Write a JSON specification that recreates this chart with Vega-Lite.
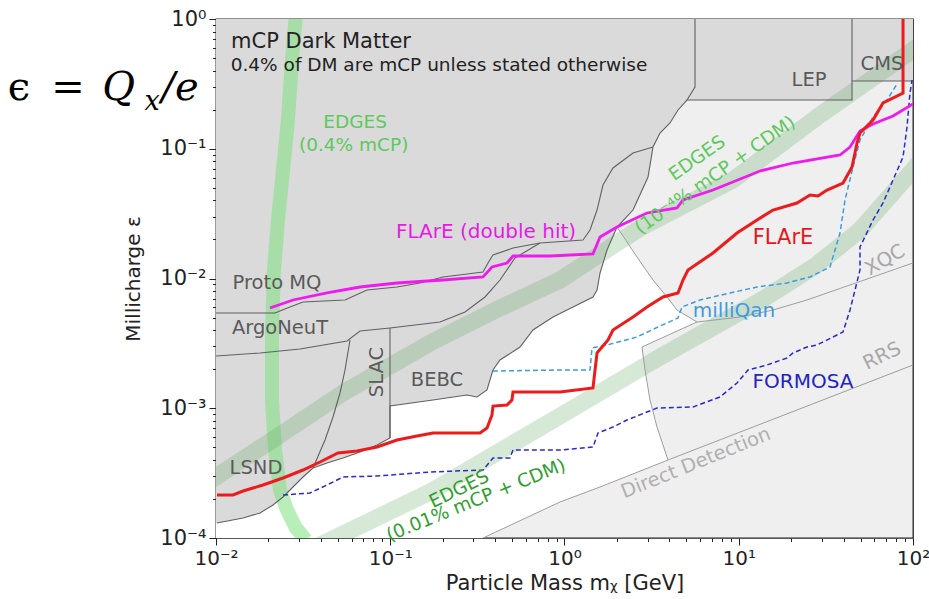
{
"$schema": "https://vega.github.io/schema/vega-lite/v6.json",
"width": 697, "height": 519,
"autosize": "none",
"padding": {"left": 216, "top": 19, "right": 16, "bottom": 61},
"background": "white",
"config": {
 "view": {"fill": "#efefef", "stroke": "#222", "strokeWidth": 1.3},
 "font": "DejaVu Sans",
 "text": {"font": "DejaVu Sans"}
},
"datasets": {
 "white": [
  {"i":0,"m":0.01,"e":0.0001},{"i":1,"m":0.3406,"e":0.0001},{"i":2,"m":0.9423,"e":0.0001894},{"i":3,"m":1.599,"e":0.0002472},
  {"i":4,"m":3.927,"e":0.0003992},{"i":5,"m":3.395,"e":0.0007168},{"i":6,"m":3.095,"e":0.001158},{"i":7,"m":2.897,"e":0.001971},
  {"i":8,"m":2.785,"e":0.002965},{"i":9,"m":5.759,"e":0.00462},{"i":10,"m":4.422,"e":0.005717},{"i":11,"m":3.875,"e":0.007203},
  {"i":12,"m":3.22,"e":0.009737},{"i":13,"m":2.607,"e":0.01464},{"i":14,"m":2.001,"e":0.02493},{"i":15,"m":1.599,"e":0.09781},
  {"i":16,"m":0.01,"e":0.09781}
 ],
 "dark": [
  {"i":0,"m":0.01,"e":1},{"i":1,"m":100,"e":1},{"i":2,"m":100,"e":0.3328},{"i":3,"m":44.67,"e":0.3328},
  {"i":4,"m":44.67,"e":0.2375},{"i":5,"m":5.047,"e":0.2375},{"i":6,"m":4.481,"e":0.1989},{"i":7,"m":4.031,"e":0.1579},
  {"i":8,"m":3.533,"e":0.1322},{"i":9,"m":3.22,"e":0.1032},{"i":10,"m":3.015,"e":0.06057},{"i":11,"m":2.473,"e":0.03372},
  {"i":12,"m":2.001,"e":0.02493},{"i":13,"m":1.754,"e":0.01659},{"i":14,"m":1.599,"e":0.01102},{"i":15,"m":1.537,"e":0.008154},
  {"i":16,"m":1.457,"e":0.007203},{"i":17,"m":1.119,"e":0.00603},{"i":18,"m":0.859,"e":0.005048},{"i":19,"m":0.6596,"e":0.004008},
  {"i":20,"m":0.5555,"e":0.002965},{"i":21,"m":0.4264,"e":0.002354},{"i":22,"m":0.3887,"e":0.001971},{"i":23,"m":0.3591,"e":0.001382},
  {"i":24,"m":0.3147,"e":0.001221},{"i":25,"m":0.2757,"e":0.001265},{"i":26,"m":0.1759,"e":0.001158},{"i":27,"m":0.09967,"e":0.00104},
  {"i":28,"m":0.09967,"e":0.0005898},{"i":29,"m":0.08395,"e":0.0005209},{"i":30,"m":0.06705,"e":0.0004601},{"i":31,"m":0.05356,"e":0.0004135},
  {"i":32,"m":0.04335,"e":0.0003785},{"i":33,"m":0.03603,"e":0.0003462},{"i":34,"m":0.03157,"e":0.0002952},{"i":35,"m":0.02766,"e":0.0002472},
  {"i":36,"m":0.02424,"e":0.000207},{"i":37,"m":0.02124,"e":0.0001796},{"i":38,"m":0.01789,"e":0.0001559},{"i":39,"m":0.01429,"e":0.0001426},
  {"i":40,"m":0.01013,"e":0.0001305},{"i":41,"m":0.01,"e":0.0001305}
 ],
 "darklines": [
  {"seg":"protomq","i":0,"m":0.01,"e":0.005421},{"seg":"protomq","i":1,"m":0.02182,"e":0.005421},{"seg":"protomq","i":2,"m":0.02658,"e":0.00603},
  {"seg":"protomq","i":3,"m":0.03157,"e":0.00659},{"seg":"protomq","i":4,"m":0.055,"e":0.00683},{"seg":"protomq","i":5,"m":0.07356,"e":0.008154},
  {"seg":"protomq","i":6,"m":0.1093,"e":0.008599},{"seg":"protomq","i":7,"m":0.1481,"e":0.009234},{"seg":"protomq","i":8,"m":0.2008,"e":0.01027},
  {"seg":"protomq","i":9,"m":0.3406,"e":0.01122},{"seg":"protomq","i":10,"m":0.3639,"e":0.01317},{"seg":"protomq","i":11,"m":0.3887,"e":0.01518},
  {"seg":"protomq","i":12,"m":0.5063,"e":0.01718},{"seg":"protomq","i":13,"m":0.7234,"e":0.01877},{"seg":"protomq","i":14,"m":1.277,"e":0.0198},
  {"seg":"protomq","i":15,"m":1.401,"e":0.02364},{"seg":"protomq","i":16,"m":1.537,"e":0.03372},{"seg":"protomq","i":17,"m":1.663,"e":0.05254},
  {"seg":"protomq","i":18,"m":1.898,"e":0.07107},{"seg":"protomq","i":19,"m":2.473,"e":0.09274},{"seg":"protomq","i":20,"m":3.22,"e":0.1032},
  {"seg":"argoneut","i":0,"m":0.01,"e":0.002528},{"seg":"argoneut","i":1,"m":0.01789,"e":0.002666},{"seg":"argoneut","i":2,"m":0.03034,"e":0.002862},
  {"seg":"argoneut","i":3,"m":0.05647,"e":0.003298},{"seg":"argoneut","i":4,"m":0.06705,"e":0.003938},{"seg":"argoneut","i":5,"m":0.09967,"e":0.004153},
  {"seg":"argoneut","i":6,"m":0.193,"e":0.00462},{"seg":"argoneut","i":7,"m":0.2685,"e":0.005517},{"seg":"argoneut","i":8,"m":0.3497,"e":0.007203},
  {"seg":"argoneut","i":9,"m":0.4264,"e":0.009737},{"seg":"argoneut","i":10,"m":0.5198,"e":0.01439},{"seg":"argoneut","i":11,"m":0.7234,"e":0.01877},
  {"seg":"slacL","i":0,"m":0.05875,"e":0.003357},{"seg":"slacL","i":1,"m":0.055,"e":0.001971},{"seg":"slacL","i":2,"m":0.05147,"e":0.001311},
  {"seg":"slacL","i":3,"m":0.04693,"e":0.0008562},{"seg":"slacL","i":4,"m":0.04222,"e":0.0005691},{"seg":"slacL","i":5,"m":0.03603,"e":0.0003462},
  {"seg":"slacR","i":0,"m":0.09967,"e":0.004153},{"seg":"slacR","i":1,"m":0.09967,"e":0.0005898},
  {"seg":"lep","i":0,"m":5.609,"e":1},{"seg":"lep","i":1,"m":5.609,"e":0.2992},{"seg":"lep","i":2,"m":5.047,"e":0.2375},
  {"seg":"cms","i":0,"m":44.67,"e":1},{"seg":"cms","i":1,"m":44.67,"e":0.3328}
 ],
 "graylines": [
  {"seg":"mq","i":0,"m":2.001,"e":0.02493},{"seg":"mq","i":1,"m":2.607,"e":0.01464},{"seg":"mq","i":2,"m":3.22,"e":0.009737},
  {"seg":"mq","i":3,"m":3.875,"e":0.007203},{"seg":"mq","i":4,"m":4.422,"e":0.005717},{"seg":"mq","i":5,"m":5.759,"e":0.00462},
  {"seg":"mq","i":6,"m":10.17,"e":0.005048},{"seg":"mq","i":7,"m":15.73,"e":0.005717},{"seg":"mq","i":8,"m":24.65,"e":0.00683},
  {"seg":"mq","i":9,"m":100,"e":0.01317},
  {"seg":"ddbox","i":0,"m":5.759,"e":0.00462},{"seg":"ddbox","i":1,"m":2.785,"e":0.002965},{"seg":"ddbox","i":2,"m":2.897,"e":0.001971},
  {"seg":"ddbox","i":3,"m":3.095,"e":0.001158},{"seg":"ddbox","i":4,"m":3.395,"e":0.0007168},{"seg":"ddbox","i":5,"m":3.927,"e":0.0003992},
  {"seg":"dd","i":0,"m":0.3406,"e":0.0001},{"seg":"dd","i":1,"m":0.9423,"e":0.0001894},{"seg":"dd","i":2,"m":1.599,"e":0.0002472},
  {"seg":"dd","i":3,"m":3.927,"e":0.0003992},{"seg":"dd","i":4,"m":100,"e":0.002154}
 ],
 "vband": [
  {"i":0,"m":0.02879,"e":1.1},{"i":1,"m":0.0273,"e":0.4831},{"i":2,"m":0.02589,"e":0.1665},{"i":3,"m":0.02424,"e":0.0686},
  {"i":4,"m":0.02269,"e":0.02825},{"i":5,"m":0.02152,"e":0.01163},{"i":6,"m":0.02096,"e":0.004008},{"i":7,"m":0.02096,"e":0.001158},
  {"i":8,"m":0.02182,"e":0.0004767},{"i":9,"m":0.0233,"e":0.0002344},{"i":10,"m":0.02556,"e":0.0001643},{"i":11,"m":0.02879,"e":0.0001194},
  {"i":12,"m":0.03285,"e":0.0000965}
 ],
 "bands": [
  {"seg":"b1","i":0,"m":0.00768,"e":0.0002344},{"seg":"b1","i":1,"m":0.02239,"e":0.0006004},{"seg":"b1","i":2,"m":0.05356,"e":0.001311},
  {"seg":"b1","i":3,"m":0.1691,"e":0.003183},{"seg":"b1","i":4,"m":0.4264,"e":0.005924},{"seg":"b1","i":5,"m":0.9423,"e":0.009737},
  {"seg":"b1","i":6,"m":2.713,"e":0.02449},{"seg":"b1","i":7,"m":9.268,"e":0.05742},{"seg":"b1","i":8,"m":29.26,"e":0.182},
  {"seg":"b1","i":9,"m":100,"e":0.577},{"seg":"b1","i":10,"m":125.2,"e":0.714},
  {"seg":"b2","i":0,"m":0.03463,"e":0.0000808},{"seg":"b2","i":1,"m":0.1691,"e":0.0002262},{"seg":"b2","i":2,"m":0.9423,"e":0.0008717},
  {"seg":"b2","i":3,"m":3.533,"e":0.002483},{"seg":"b2","i":4,"m":13.24,"e":0.006707},{"seg":"b2","i":5,"m":27.39,"e":0.01248},
  {"seg":"b2","i":6,"m":49.64,"e":0.02364},{"seg":"b2","i":7,"m":100,"e":0.0686},{"seg":"b2","i":8,"m":125.2,"e":0.09781}
 ],
 "flare": [
  {"i":0,"m":0.01013,"e":0.0002145},{"i":1,"m":0.01253,"e":0.0002145},{"i":2,"m":0.01429,"e":0.0002302},{"i":3,"m":0.01861,"e":0.0002562},
  {"i":4,"m":0.02424,"e":0.00029},{"i":5,"m":0.03157,"e":0.0003342},{"i":6,"m":0.03953,"e":0.0003853},{"i":7,"m":0.05013,"e":0.000452},
  {"i":8,"m":0.06445,"e":0.0004683},{"i":9,"m":0.08395,"e":0.000503},{"i":10,"m":0.1093,"e":0.0005691},{"i":11,"m":0.1424,"e":0.0006109},
  {"i":12,"m":0.1759,"e":0.0006446},{"i":13,"m":0.3274,"e":0.0006446},{"i":14,"m":0.3591,"e":0.0007042},{"i":15,"m":0.3836,"e":0.000887},
  {"i":16,"m":0.3887,"e":0.00104},{"i":17,"m":0.4677,"e":0.001059},{"i":18,"m":0.4996,"e":0.001158},{"i":19,"m":0.5063,"e":0.001334},
  {"i":20,"m":0.9423,"e":0.001334},{"i":21,"m":1.457,"e":0.001432},{"i":22,"m":1.537,"e":0.002666},{"i":23,"m":1.777,"e":0.003357},
  {"i":24,"m":1.898,"e":0.004008},{"i":25,"m":2.473,"e":0.005048},{"i":26,"m":2.975,"e":0.00603},{"i":27,"m":3.676,"e":0.007203},
  {"i":28,"m":4.481,"e":0.007733},{"i":29,"m":4.786,"e":0.009737},{"i":30,"m":5.114,"e":0.01163},{"i":31,"m":7.116,"e":0.01572},
  {"i":32,"m":9.772,"e":0.02242},{"i":33,"m":12.73,"e":0.02825},{"i":34,"m":15.73,"e":0.03372},{"i":35,"m":21.59,"e":0.03819},
  {"i":36,"m":25.64,"e":0.04399},{"i":37,"m":28.5,"e":0.04322},{"i":38,"m":32.1,"e":0.04808},{"i":39,"m":39.66,"e":0.05445},
  {"i":40,"m":44.67,"e":0.07235},{"i":41,"m":47.72,"e":0.1107},{"i":42,"m":49.64,"e":0.1322},{"i":43,"m":58.96,"e":0.1665},
  {"i":44,"m":67.27,"e":0.2252},{"i":45,"m":87.65,"e":0.269},{"i":46,"m":87.65,"e":1.05}
 ],
 "double": [
  {"i":0,"m":0.02041,"e":0.005924},{"i":1,"m":0.02766,"e":0.00683},{"i":2,"m":0.04335,"e":0.007733},{"i":3,"m":0.06705,"e":0.008599},
  {"i":4,"m":0.1093,"e":0.009234},{"i":5,"m":0.2008,"e":0.009737},{"i":6,"m":0.3406,"e":0.01027},{"i":7,"m":0.3836,"e":0.01226},
  {"i":8,"m":0.4677,"e":0.01317},{"i":9,"m":0.5063,"e":0.01491},{"i":10,"m":0.8256,"e":0.01491},{"i":11,"m":1.457,"e":0.01545},
  {"i":12,"m":1.599,"e":0.02089},{"i":13,"m":2.001,"e":0.02493},{"i":14,"m":2.975,"e":0.03198},{"i":15,"m":4.422,"e":0.03494},
  {"i":16,"m":4.786,"e":0.04027},{"i":17,"m":7.116,"e":0.04808},{"i":18,"m":13.24,"e":0.0674},{"i":19,"m":20.48,"e":0.07765},
  {"i":20,"m":38.11,"e":0.08953},{"i":21,"m":43.5,"e":0.1032},{"i":22,"m":49.64,"e":0.137},{"i":23,"m":58.96,"e":0.1551},
  {"i":24,"m":76.79,"e":0.1788},{"i":25,"m":100,"e":0.2213}
 ],
 "milliqan": [
  {"i":0,"m":0.3887,"e":0.001936},{"i":1,"m":0.9423,"e":0.001971},{"i":2,"m":1.401,"e":0.001971},{"i":3,"m":1.438,"e":0.002913},
  {"i":4,"m":1.754,"e":0.003072},{"i":5,"m":2.607,"e":0.00354},{"i":6,"m":3.533,"e":0.004303},{"i":7,"m":4.481,"e":0.00496},
  {"i":8,"m":4.723,"e":0.00603},{"i":9,"m":5.992,"e":0.00683},{"i":10,"m":8.907,"e":0.007733},{"i":11,"m":12.73,"e":0.008599},
  {"i":12,"m":18.92,"e":0.009234},{"i":13,"m":25.64,"e":0.01027},{"i":14,"m":33.39,"e":0.01226},{"i":15,"m":38.11,"e":0.02242},
  {"i":16,"m":40.72,"e":0.04027},{"i":17,"m":45.26,"e":0.07235},{"i":18,"m":49.64,"e":0.1168},{"i":19,"m":58.96,"e":0.1757},
  {"i":20,"m":70.93,"e":0.2375},{"i":21,"m":80.94,"e":0.3155}
 ],
 "formosa": [
  {"i":0,"m":0.02424,"e":0.0002145},{"i":1,"m":0.03463,"e":0.0002222},{"i":2,"m":0.04335,"e":0.0002562},{"i":3,"m":0.04948,"e":0.0002799},
  {"i":4,"m":0.05356,"e":0.0002952},{"i":5,"m":0.08395,"e":0.0003004},{"i":6,"m":0.1691,"e":0.0003226},{"i":7,"m":0.3406,"e":0.0003342},
  {"i":8,"m":0.3887,"e":0.0004135},{"i":9,"m":0.4866,"e":0.0004135},{"i":10,"m":0.5063,"e":0.0004767},{"i":11,"m":0.9423,"e":0.0004767},
  {"i":12,"m":1.457,"e":0.000503},{"i":13,"m":1.557,"e":0.0006446},{"i":14,"m":1.898,"e":0.0007168},{"i":15,"m":2.284,"e":0.0008117},
  {"i":16,"m":3.395,"e":0.001004},{"i":17,"m":5.463,"e":0.001022},{"i":18,"m":7.806,"e":0.001221},{"i":19,"m":9.772,"e":0.001565},
  {"i":20,"m":11.3,"e":0.001971},{"i":21,"m":14.52,"e":0.002154},{"i":22,"m":18.92,"e":0.00244},{"i":23,"m":20.48,"e":0.002666},
  {"i":24,"m":24.65,"e":0.002965},{"i":25,"m":28.13,"e":0.003072},{"i":26,"m":34.74,"e":0.00354},{"i":27,"m":39.66,"e":0.00387},
  {"i":28,"m":43.5,"e":0.005717},{"i":29,"m":46.47,"e":0.008154},{"i":30,"m":49.64,"e":0.01163},{"i":31,"m":49.64,"e":0.01749},
  {"i":32,"m":58.96,"e":0.02825},{"i":33,"m":67.27,"e":0.03819},{"i":34,"m":76.79,"e":0.05742},{"i":35,"m":87.65,"e":0.08638},
  {"i":36,"m":92.39,"e":0.1471},{"i":37,"m":96.12,"e":0.269},{"i":38,"m":98.7,"e":0.3388}
 ]
},
"encoding": {
 "x": {"field": "m", "type": "quantitative",
  "scale": {"type": "log", "domain": [0.01, 100], "nice": false},
  "axis": {
   "values": [0.01,0.02,0.03,0.04,0.05,0.06,0.07,0.08,0.09,0.1,0.2,0.3,0.4,0.5,0.6,0.7,0.8,0.9,1,2,3,4,5,6,7,8,9,10,20,30,40,50,60,70,80,90,100],
   "labelExpr": "datum.value==0.01?'10⁻²':datum.value==0.1?'10⁻¹':datum.value==1?'10⁰':datum.value==10?'10¹':datum.value==100?'10²':''",
   "title": "Particle Mass mᵪ [GeV]",
   "grid": false, "domain": false,
   "tickColor": "#222", "tickWidth": 1,
   "tickSize": {"condition": {"test": "indexof([0.01,0.1,1,10,100], datum.value) >= 0", "value": 7}, "value": 3.5},
   "labelFontSize": 20, "labelColor": "#222", "labelPadding": 3, "labelFlush": false, "labelOverlap": false, "labelBound": false,
   "titleFontSize": 21, "titleFontWeight": "normal", "titleColor": "#222", "titlePadding": 4
  }
 },
 "y": {"field": "e", "type": "quantitative",
  "scale": {"type": "log", "domain": [0.0001, 1], "nice": false},
  "axis": {
   "values": [0.0001,0.0002,0.0003,0.0004,0.0005,0.0006,0.0007,0.0008,0.0009,0.001,0.002,0.003,0.004,0.005,0.006,0.007,0.008,0.009,0.01,0.02,0.03,0.04,0.05,0.06,0.07,0.08,0.09,0.1,0.2,0.3,0.4,0.5,0.6,0.7,0.8,0.9,1],
   "labelExpr": "datum.value==0.0001?'10⁻⁴':datum.value==0.001?'10⁻³':datum.value==0.01?'10⁻²':datum.value==0.1?'10⁻¹':datum.value==1?'10⁰':''",
   "title": "Millicharge ε",
   "grid": false, "domain": false,
   "tickColor": "#222", "tickWidth": 1,
   "tickSize": {"condition": {"test": "indexof([0.0001,0.001,0.01,0.1,1], datum.value) >= 0", "value": 7}, "value": 3.5},
   "labelFontSize": 21, "labelColor": "#222", "labelPadding": 3, "labelFlush": false, "labelOverlap": false, "labelBound": false,
   "titleFontSize": 20, "titleFontWeight": "normal", "titleColor": "#222", "titlePadding": 16
  }
 }
},
"layer": [
 {"data": {"name": "white"}, "mark": {"type": "line", "fill": "white", "stroke": "white", "strokeWidth": 0, "clip": true},
  "encoding": {"order": {"field": "i", "type": "quantitative"}}},
 {"data": {"name": "dark"}, "mark": {"type": "line", "fill": "#dadada", "stroke": "#dadada", "strokeWidth": 0, "clip": true},
  "encoding": {"order": {"field": "i", "type": "quantitative"}}},
 {"data": {"name": "vband"}, "mark": {"type": "line", "stroke": "#7ee07e", "strokeWidth": 14, "opacity": 0.55, "clip": true, "strokeJoin": "round"},
  "encoding": {"order": {"field": "i", "type": "quantitative"}}},
 {"data": {"name": "bands"}, "mark": {"type": "line", "stroke": "#5aa85a", "strokeWidth": 17, "opacity": 0.25, "clip": true, "strokeJoin": "round"},
  "encoding": {"order": {"field": "i", "type": "quantitative"}, "detail": {"field": "seg"}}},
 {"data": {"name": "graylines"}, "mark": {"type": "line", "stroke": "#9e9e9e", "strokeWidth": 1, "clip": true},
  "encoding": {"order": {"field": "i", "type": "quantitative"}, "detail": {"field": "seg"}}},
 {"data": {"name": "dark"}, "transform": [{"filter": "datum.i >= 2 && datum.i <= 40"}],
  "mark": {"type": "line", "stroke": "#616161", "strokeWidth": 1.1, "clip": true},
  "encoding": {"order": {"field": "i", "type": "quantitative"}}},
 {"data": {"name": "darklines"}, "mark": {"type": "line", "stroke": "#616161", "strokeWidth": 1.1, "clip": true},
  "encoding": {"order": {"field": "i", "type": "quantitative"}, "detail": {"field": "seg"}}},
 {"data": {"name": "milliqan"}, "mark": {"type": "line", "stroke": "#3e9be0", "strokeWidth": 1.5, "strokeDash": [5, 3], "clip": true},
  "encoding": {"order": {"field": "i", "type": "quantitative"}}},
 {"data": {"name": "formosa"}, "mark": {"type": "line", "stroke": "#2a2ad0", "strokeWidth": 1.5, "strokeDash": [5, 3], "clip": true},
  "encoding": {"order": {"field": "i", "type": "quantitative"}}},
 {"data": {"name": "double"}, "mark": {"type": "line", "stroke": "#ee1aee", "strokeWidth": 2.8, "clip": true},
  "encoding": {"order": {"field": "i", "type": "quantitative"}}},
 {"data": {"name": "flare"}, "mark": {"type": "line", "stroke": "#ec1c1c", "strokeWidth": 3, "clip": true},
  "encoding": {"order": {"field": "i", "type": "quantitative"}}},
 {"data": {"values": [{"t": "mCP Dark Matter", "m": 0.04005, "e": 0.6648}]},
  "mark": {"type": "text", "fontSize": 21, "color": "#222", "align": "center", "baseline": "middle"},
  "encoding": {"text": {"field": "t"}}},
 {"data": {"values": [{"t": "0.4% of DM are mCP unless stated otherwise", "m": 0.1905, "e": 0.4419}]},
  "mark": {"type": "text", "fontSize": 18.5, "color": "#222", "align": "center", "baseline": "middle"},
  "encoding": {"text": {"field": "t"}}},
 {"data": {"values": [{"t": "EDGES", "m": 0.0628, "e": 0.1608}, {"t": "(0.4% mCP)", "m": 0.06166, "e": 0.1069}]},
  "mark": {"type": "text", "fontSize": 18.5, "color": "#5cc95c", "align": "center", "baseline": "middle"},
  "encoding": {"text": {"field": "t"}}},
 {"data": {"values": [{"t": "EDGES", "m": 5.759, "e": 0.08487}, {"t": "(10⁻⁴% mCP + CDM)", "m": 7.306, "e": 0.06274}]},
  "mark": {"type": "text", "fontSize": 18.5, "color": "#5cc95c", "align": "center", "baseline": "middle", "angle": 325},
  "encoding": {"text": {"field": "t"}}},
 {"data": {"values": [{"t": "EDGES", "m": 0.2481, "e": 0.0002386}]},
  "mark": {"type": "text", "fontSize": 18.5, "color": "#2f9e2f", "align": "center", "baseline": "middle", "angle": 334},
  "encoding": {"text": {"field": "t"}}},
 {"data": {"values": [{"t": "(0.01% mCP + CDM)", "m": 0.3105, "e": 0.0001963}]},
  "mark": {"type": "text", "fontSize": 18.5, "color": "#2f9e2f", "align": "center", "baseline": "middle", "angle": 338},
  "encoding": {"text": {"field": "t"}}},
 {"data": {"values": [
   {"t": "Proto MQ", "m": 0.02239, "e": 0.009234}, {"t": "ArgoNeuT", "m": 0.0233, "e": 0.004153},
   {"t": "BEBC", "m": 0.1855, "e": 0.001651}, {"t": "LSND", "m": 0.01697, "e": 0.0003462},
   {"t": "LEP", "m": 25.31, "e": 0.3388}, {"t": "CMS", "m": 66.4, "e": 0.4498}]},
  "mark": {"type": "text", "fontSize": 19.5, "color": "#5a5a5a", "align": "center", "baseline": "middle"},
  "encoding": {"text": {"field": "t"}}},
 {"data": {"values": [{"t": "SLAC", "m": 0.08395, "e": 0.001903}]},
  "mark": {"type": "text", "fontSize": 19.5, "color": "#5a5a5a", "align": "center", "baseline": "middle", "angle": 270},
  "encoding": {"text": {"field": "t"}}},
 {"data": {"values": [{"t": "FLArE (double hit)", "m": 0.3544, "e": 0.02282}]},
  "mark": {"type": "text", "fontSize": 20, "color": "#e619e6", "align": "center", "baseline": "middle"},
  "encoding": {"text": {"field": "t"}}},
 {"data": {"values": [{"t": "FLArE", "m": 17.95, "e": 0.02051}]},
  "mark": {"type": "text", "fontSize": 21, "color": "#e8161b", "align": "center", "baseline": "middle"},
  "encoding": {"text": {"field": "t"}}},
 {"data": {"values": [{"t": "milliQan", "m": 9.39, "e": 0.005617}]},
  "mark": {"type": "text", "fontSize": 20, "color": "#3e9be0", "align": "center", "baseline": "middle"},
  "encoding": {"text": {"field": "t"}}},
 {"data": {"values": [{"t": "FORMOSA", "m": 23.37, "e": 0.001593}]},
  "mark": {"type": "text", "fontSize": 20, "color": "#2323c8", "align": "center", "baseline": "middle"},
  "encoding": {"text": {"field": "t"}}},
 {"data": {"values": [{"t": "XQC", "m": 69.1, "e": 0.01389}]},
  "mark": {"type": "text", "fontSize": 19.5, "color": "#a8a8a8", "align": "center", "baseline": "middle", "angle": 330},
  "encoding": {"text": {"field": "t"}}},
 {"data": {"values": [{"t": "RRS", "m": 66.4, "e": 0.002528}]},
  "mark": {"type": "text", "fontSize": 19.5, "color": "#a8a8a8", "align": "center", "baseline": "middle", "angle": 334},
  "encoding": {"text": {"field": "t"}}},
 {"data": {"values": [{"t": "Direct Detection", "m": 5.68, "e": 0.0003785}]},
  "mark": {"type": "text", "fontSize": 19.5, "color": "#b0b0b0", "align": "center", "baseline": "middle", "angle": 338},
  "encoding": {"text": {"field": "t"}}},
 {"data": {"values": [{"t": "ϵ", "m": 0.00074, "e": 0.2938}, {"t": "=", "m": 0.001414, "e": 0.2938}]},
  "mark": {"type": "text", "font": "DejaVu Serif", "fontSize": 40, "color": "#000", "align": "center", "baseline": "middle"},
  "encoding": {"text": {"field": "t"}}},
 {"data": {"values": [{"t": "Q", "m": 0.00276, "e": 0.2938}, {"t": "/e", "m": 0.006214, "e": 0.2938}]},
  "mark": {"type": "text", "font": "DejaVu Serif", "fontStyle": "italic", "fontSize": 40, "color": "#000", "align": "center", "baseline": "middle"},
  "encoding": {"text": {"field": "t"}}},
 {"data": {"values": [{"t": "x", "m": 0.0043, "e": 0.2293}]},
  "mark": {"type": "text", "font": "DejaVu Serif", "fontStyle": "italic", "fontSize": 27, "color": "#000", "align": "center", "baseline": "middle"},
  "encoding": {"text": {"field": "t"}}}
]
}
